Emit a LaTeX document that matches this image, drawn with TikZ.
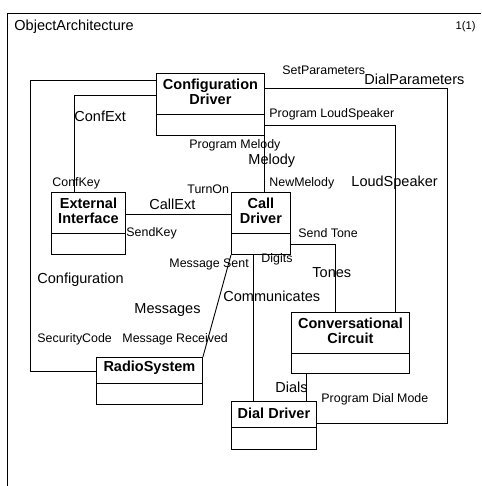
\documentclass[tikz,border=0pt]{standalone}
\usepackage{fontspec}
\setmainfont{Liberation Sans}
\begin{document}
\begin{tikzpicture}[x=1pt,y=-1pt,
  line width=0.9pt,
  every node/.style={inner sep=0pt},
  clsbox/.style={draw, rectangle, anchor=north west, inner sep=0pt},
  clstitle/.style={font=\fontsize{14.5}{15}\selectfont\bfseries, align=center},
  lbig/.style={font=\fontsize{14.5}{16}\selectfont, anchor=west},
  lsmall/.style={font=\fontsize{12.4}{14}\selectfont, anchor=west}]
\useasboundingbox (0,0) rectangle (481,486);

% outer diagram frame
\draw (481,13) -- (7,13) -- (7,486);
\node[lbig] (frametitle) at (14,27) {ObjectArchitecture};
\node[font=\fontsize{11.2}{13}\selectfont, anchor=east] (pagenum) at (476,27) {1(1)};

% classes: outer box, compartment divider, name
\node[clsbox, minimum width=108pt, minimum height=62pt] (cfg) at (156,73) {};
\draw ([yshift=-41pt]cfg.north west) -- ([yshift=-41pt]cfg.north east);
\node[clstitle] (cfgT) at ([yshift=-18.5pt]cfg.north) {Configuration\\Driver};

\node[clsbox, minimum width=74pt, minimum height=62pt] (ext) at (51,192) {};
\draw ([yshift=-41pt]ext.north west) -- ([yshift=-41pt]ext.north east);
\node[clstitle] (extT) at ([yshift=-19pt]ext.north) {External\\Interface};

\node[clsbox, minimum width=59pt, minimum height=62pt] (call) at (231,192) {};
\draw ([yshift=-41pt]call.north west) -- ([yshift=-41pt]call.north east);
\node[clstitle] (callT) at ([yshift=-19pt]call.north) {Call\\Driver};

\node[clsbox, minimum width=118pt, minimum height=61pt] (conv) at (291,312) {};
\draw ([yshift=-41pt]conv.north west) -- ([yshift=-41pt]conv.north east);
\node[clstitle] (convT) at ([yshift=-18.5pt]conv.north) {Conversational\\Circuit};

\node[clsbox, minimum width=106pt, minimum height=47pt] (radio) at (96,357) {};
\draw ([yshift=-26pt]radio.north west) -- ([yshift=-26pt]radio.north east);
\node[clstitle] (radioT) at ([yshift=-11pt]radio.north) {RadioSystem};

\node[clsbox, minimum width=85pt, minimum height=48pt] (dial) at (231,401) {};
\draw ([yshift=-26pt]dial.north west) -- ([yshift=-26pt]dial.north east);
\node[clstitle] (dialT) at ([yshift=-12pt]dial.north) {Dial Driver};

% connectors
\draw ([yshift=-7pt]cfg.north west) -- ++(-126,0) |- ([yshift=-14pt]radio.north west);
\draw ([yshift=-22pt]cfg.north west) -| ([xshift=23pt]ext.north west);
\draw ([yshift=-22pt]ext.north east) -- ([yshift=-22pt]call.north west);
\draw (cfg.south east) -- (cfg.south east |- call.north);
\draw ([yshift=-15pt]cfg.north east) -- ++(183,0) |- ([yshift=-22pt]dial.north east);
\draw ([yshift=10pt]cfg.south east) -| ([xshift=-14pt]conv.north east);
\draw ([yshift=10pt]call.south east) -| ([xshift=44pt]conv.north west);
\draw ([xshift=22pt]call.south west) -- ([xshift=22pt]dial.north west);
\draw ([xshift=15pt]conv.south west) coordinate (dialsTop) -- (dialsTop |- dial.north);
\draw (call.south west) -- (radio.north east);

% association and role labels
\node[lsmall] (lSetPar) at (282,70) {SetParameters};
\node[lbig] (lDialPar) at (364,79) {DialParameters};
\node[lbig] (lConfExt) at (74,116) {ConfExt};
\node[lsmall] (lProgLS) at (269,114) {Program LoudSpeaker};
\node[lsmall] (lProgMel) at (189,145) {Program Melody};
\node[lbig] (lMelody) at (248,161) {Melody};
\node[lsmall] (lConfKey) at (52,183) {ConfKey};
\node[lsmall] (lTurnOn) at (187,189) {TurnOn};
\node[lsmall] (lNewMel) at (269,183) {NewMelody};
\node[lbig] (lLoudSp) at (351,183) {LoudSpeaker};
\node[lbig] (lCallExt) at (149,204) {CallExt};
\node[lsmall] (lSendKey) at (126,233) {SendKey};
\node[lsmall] (lSendTone) at (298,233) {Send Tone};
\node[lsmall] (lMsgSent) at (169,264) {Message Sent};
\node[lsmall] (lDigits) at (261,259) {Digits};
\node[lbig] (lConfig) at (37,280) {Configuration};
\node[lbig] (lTones) at (312,273) {Tones};
\node[lbig] (lComm) at (223,296) {Communicates};
\node[lbig] (lMsgs) at (134,310) {Messages};
\node[lsmall] (lSecCode) at (37,339) {SecurityCode};
\node[lsmall] (lMsgRecv) at (122,339) {Message Received};
\node[lbig] (lDials) at (275,387) {Dials};
\node[lsmall] (lProgDial) at (321,399) {Program Dial Mode};
\end{tikzpicture}
\end{document}
